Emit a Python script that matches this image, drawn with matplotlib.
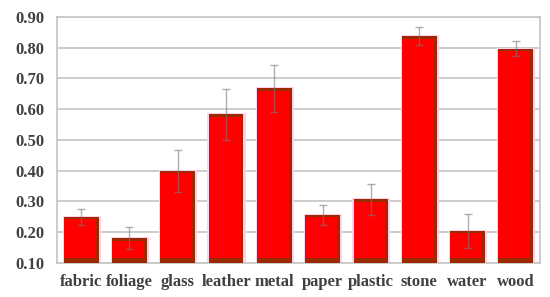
import matplotlib.pyplot as plt
import numpy as np

categories = ['fabric', 'foliage', 'glass', 'leather', 'metal',
              'paper', 'plastic', 'stone', 'water', 'wood']
values = [0.250, 0.180, 0.400, 0.584, 0.668, 0.256, 0.307, 0.838, 0.204, 0.797]
errors = [0.026, 0.036, 0.068, 0.083, 0.076, 0.031, 0.051, 0.030, 0.055, 0.024]
yticks = [0.10, 0.20, 0.30, 0.40, 0.50, 0.60, 0.70, 0.80, 0.90]

plt.rcParams['font.family'] = ['Liberation Serif', 'DejaVu Serif']

fig = plt.figure(figsize=(5.5, 2.97), dpi=100)
ax = fig.add_axes([0.1036, 0.1145, 0.8782, 0.8283])

x = np.arange(len(categories))
values = np.array(values)
base = yticks[0]
w = 0.72

# faint pink halo, dark shaded body, then red face
ax.bar(x + 0.01, values - base + 0.006, w + 0.07, bottom=base - 0.003,
       color='#ffd0f0', zorder=2)
ax.bar(x, values - base, w, bottom=base, color='#9a2a00', zorder=3)
ax.bar(x - 0.03, values - base - 0.024, w - 0.06, bottom=base + 0.016,
       color='#ff0000', zorder=4)

ax.errorbar(x, values, yerr=errors, fmt='none', ecolor='#7a7a7a',
            elinewidth=1, capsize=3, capthick=1, alpha=0.6, zorder=5)

ax.set_xlim(-0.5, len(categories) - 0.5)
ax.set_ylim(yticks[0], yticks[-1])
ax.set_yticks(yticks)
ax.set_yticklabels([f'{t:.2f}' for t in yticks])
ax.set_xticks(x)
ax.set_xticklabels(categories)

ax.tick_params(length=0, labelsize=12, labelcolor='#404040')
ax.tick_params(axis='x', pad=8)
ax.tick_params(axis='y', pad=9)
for lab in ax.get_xticklabels() + ax.get_yticklabels():
    lab.set_fontweight('bold')

ax.grid(axis='y', color='#c4c4c4', linewidth=1.2, zorder=0)
ax.set_axisbelow(True)
for s in ax.spines.values():
    s.set_color('#c4c4c4')
    s.set_linewidth(1.2)

fig.savefig('out.png', dpi=100)
